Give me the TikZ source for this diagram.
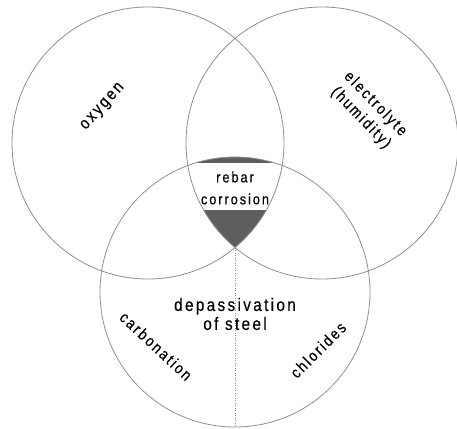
\documentclass[tikz,border=0pt]{standalone}
\usepackage{fontspec}
\newfontfamily\lsans[FakeStretch=0.85,LetterSpace=13,FakeBold=0.3]{Liberation Sans}
\definecolor{ringgray}{HTML}{909090}
\definecolor{corefill}{HTML}{5E5E5E}
\begin{document}
\begin{tikzpicture}[x=1pt,y=-1pt,
  ring/.style={circle,draw=ringgray,line width=0.8pt,inner sep=0pt},
  lbl/.style={inner sep=0pt,text=black,align=center},
  sz/.style={font=\lsans\fontsize{#1}{#1}\selectfont}]
\useasboundingbox (0,0) rectangle (457,428);
\fill[white] (0,0) rectangle (457,428);
\begin{scope}
  \clip (148,143) circle (136pt);
  \clip (322,143) circle (136pt);
  \clip (235,292) circle (135pt);
  \fill[corefill] (90,100) rectangle (380,270);
  \fill[white] (90,163) rectangle (380,210);
\end{scope}
\node[ring,minimum size=272pt] (O) at (148,143) {};
\node[ring,minimum size=272pt] (E) at (322,143) {};
\node[ring,minimum size=270pt] (D) at (235,292) {};
\coordinate (tip) at (235,247.5);
\draw[ringgray,line width=0.8pt,dash pattern=on 1pt off 1.5pt] (tip) -- (D.south);
\node[lbl,sz=17,rotate=48] (oxy) at (103,107) {oxygen};
\node[lbl,font=\lsans\fontsize{16}{20}\selectfont,rotate=-46] (ele) at (368,111) {electrolyte\\(humidity)};
\node[lbl,font=\lsans\fontsize{15}{22}\selectfont] (reb) at (235,188) {rebar\\corrosion};
\node[lbl,font=\lsans\fontsize{18}{19}\selectfont] (dep) at (235,314) {depassivation\\of steel};
\node[lbl,sz=16,rotate=-43] (car) at (156,346) {carbonation};
\node[lbl,sz=16,rotate=45] (chl) at (318,350) {chlorides};
\end{tikzpicture}
\end{document}
